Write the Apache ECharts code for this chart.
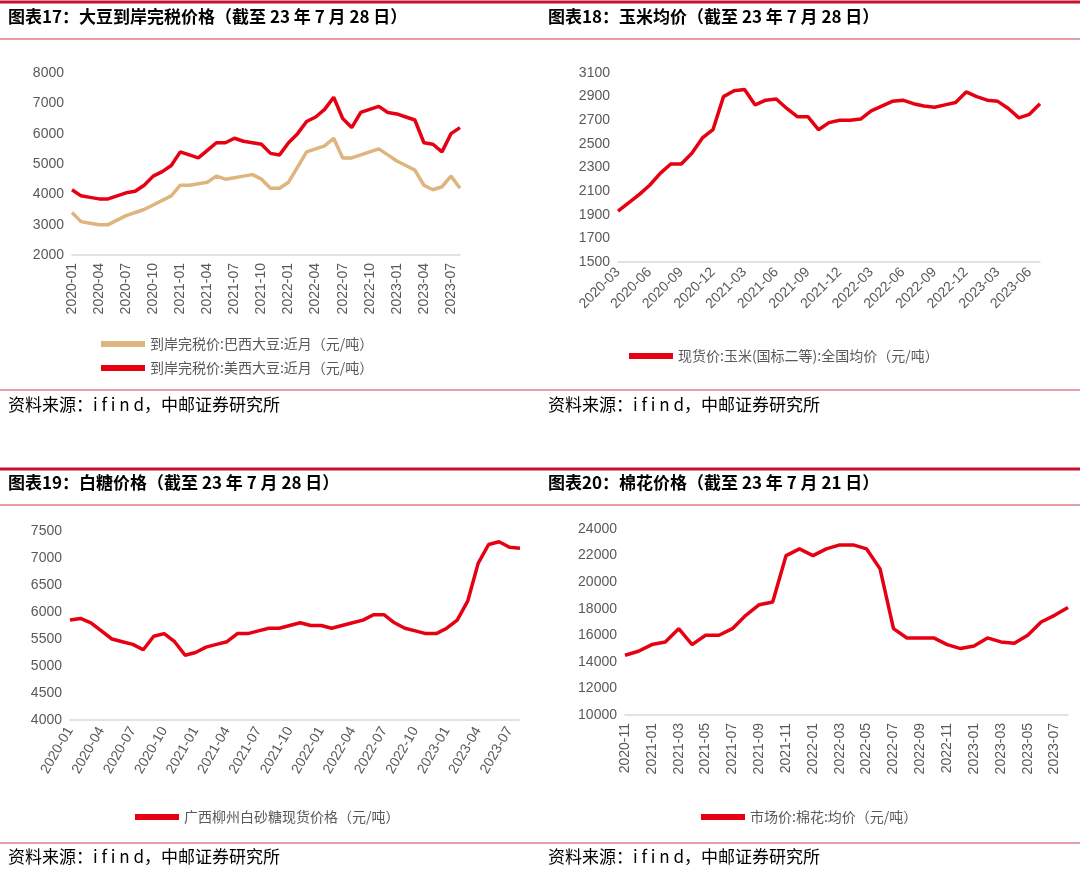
<!DOCTYPE html>
<html><head><meta charset="utf-8">
<script src="https://cdn.jsdelivr.net/npm/echarts@6/dist/echarts.min.js"></script>
<style>html,body{margin:0;padding:0;background:#fff}#c{width:1080px;height:881px}</style>
</head><body><div id="c"></div>
<script>
function months(y0,m0,y1,m1){const r=[];let y=y0,m=m0;while(y<y1||(y===y1&&m<=m1)){r.push(y+'-'+String(m).padStart(2,'0'));m++;if(m>12){m=1;y++;}}return r;}
const soyCats = months(2020,1,2023,7).concat(['2023-08']);
const soyUS = [4150,3950,3900,3850,3850,3950,4050,4100,4300,4600,4750,4950,5400,5300,5200,5450,5700,5700,5850,5750,5700,5650,5350,5300,5700,6000,6400,6550,6800,7200,6500,6200,6700,6800,6900,6700,6650,6550,6450,5700,5650,5400,6000,6200];
const soyBR = [3400,3100,3050,3000,3000,3150,3300,3400,3500,3650,3800,3950,4300,4300,4350,4400,4600,4500,4550,4600,4650,4500,4200,4200,4400,4900,5400,5500,5600,5850,5200,5200,5300,5400,5500,5300,5100,4950,4800,4300,4150,4250,4600,4200];
const cornCats = months(2020,3,2023,7);
const corn = [1930,2000,2070,2150,2250,2330,2330,2420,2550,2620,2900,2950,2960,2830,2870,2880,2800,2730,2730,2620,2680,2700,2700,2710,2780,2820,2860,2870,2840,2820,2810,2830,2850,2940,2900,2870,2860,2800,2720,2750,2840];
const sugarCats = months(2020,1,2023,7).concat(['2023-08']);
const sugar = [5850,5880,5800,5650,5500,5450,5400,5300,5550,5600,5450,5200,5250,5350,5400,5450,5600,5600,5650,5700,5700,5750,5800,5750,5750,5700,5750,5800,5850,5950,5950,5800,5700,5650,5600,5600,5700,5850,6200,6900,7250,7300,7200,7180];
const cottonCats = months(2020,11,2023,7).concat(['2023-08']);
const cotton = [14500,14800,15300,15500,16500,15300,16000,16000,16500,17500,18300,18500,22000,22500,22000,22500,22800,22800,22500,21000,16500,15800,15800,15800,15300,15000,15200,15800,15500,15400,16000,17000,17500,18100];

const RED='#e60012', TAN='#deb47f', GREY='#595959';
const font='"Noto Sans CJK SC", sans-serif';
function xAx(gi,cats,every,rot){return {type:'category',gridIndex:gi,data:cats,boundaryGap:false,
 axisLine:{lineStyle:{color:'#d9d9d9',width:1.5}},axisTick:{show:false},
 axisLabel:{rotate:rot||90,color:GREY,fontSize:14,fontFamily:'Arial',interval:(i)=>i%every===0 && i<cats.length-1,margin:8}};}
function yAx(gi,min,max,int){return {type:'value',gridIndex:gi,min,max,interval:int,splitLine:{show:false},axisLine:{show:false},axisTick:{show:false},axisLabel:{color:GREY,fontSize:14,fontFamily:'Arial',formatter:v=>String(v)}};}
function ln(gi,name,data,color){return {type:'line',name,xAxisIndex:gi,yAxisIndex:gi,data,showSymbol:false,symbol:'none',lineStyle:{color,width:3.5},itemStyle:{color}};}
function txt(x,y,t,sz,bold,ls){return {type:'text',left:x,top:y,style:{text:t,fontSize:sz,fontWeight:bold?'bold':'normal',fontFamily:font,fill:'#000'}};}
function hl(x1,x2,y,w,c){return {type:'line',shape:{x1,y1:y,x2,y2:y},style:{stroke:c,lineWidth:w}};}
const legT={color:GREY,fontSize:14,fontFamily:font};
const chart=echarts.init(document.getElementById('c'));
chart.setOption({
 animation:false,
 grid:[{left:72,width:388,top:73,height:182},{left:618,width:422,top:73,height:189},{left:70,width:450,top:531,height:189},{left:625,width:443,top:529,height:186}],
 xAxis:[xAx(0,soyCats,3),xAx(1,cornCats,3,45),xAx(2,sugarCats,3,60),xAx(3,cottonCats,2)],
 yAxis:[yAx(0,2000,8000,1000),yAx(1,1500,3100,200),yAx(2,4000,7500,500),yAx(3,10000,24000,2000)],
 legend:[
  {data:['到岸完税价:巴西大豆:近月（元/吨）','到岸完税价:美西大豆:近月（元/吨）'],orient:'vertical',left:96,top:332,itemWidth:44,itemHeight:6,itemGap:10,icon:'rect',textStyle:legT},
  {data:['现货价:玉米(国标二等):全国均价（元/吨）'],left:624,top:344,itemWidth:44,itemHeight:6,icon:'rect',textStyle:legT},
  {data:['广西柳州白砂糖现货价格（元/吨）'],left:130,top:805,itemWidth:44,itemHeight:6,icon:'rect',textStyle:legT},
  {data:['市场价:棉花:均价（元/吨）'],left:696,top:805,itemWidth:44,itemHeight:6,icon:'rect',textStyle:legT}
 ],
 series:[ln(0,'到岸完税价:巴西大豆:近月（元/吨）',soyBR,TAN),ln(0,'到岸完税价:美西大豆:近月（元/吨）',soyUS,RED),
  ln(1,'现货价:玉米(国标二等):全国均价（元/吨）',corn,RED),ln(2,'广西柳州白砂糖现货价格（元/吨）',sugar,RED),ln(3,'市场价:棉花:均价（元/吨）',cotton,RED)],
 graphic:[
  hl(0,1080,2,3,'#c8102e'),hl(0,1080,39,1,'#d04050'),hl(0,1080,390,1,'#d04050'),
  hl(0,1080,469,3,'#c8102e'),hl(0,1080,505,1,'#d04050'),hl(0,1080,843,1,'#d04050'),
  txt(8,8,'图表17：大豆到岸完税价格（截至 23 年 7 月 28 日）',17,true),
  txt(548,8,'图表18：玉米均价（截至 23 年 7 月 28 日）',17,true),
  txt(8,474,'图表19：白糖价格（截至 23 年 7 月 28 日）',17,true),
  txt(548,474,'图表20：棉花价格（截至 23 年 7 月 21 日）',17,true),
  txt(8,396,'资料来源：i f i n d，中邮证券研究所',17,false),
  txt(548,396,'资料来源：i f i n d，中邮证券研究所',17,false),
  txt(8,848,'资料来源：i f i n d，中邮证券研究所',17,false),
  txt(548,848,'资料来源：i f i n d，中邮证券研究所',17,false)
 ]
});
</script></body></html>
